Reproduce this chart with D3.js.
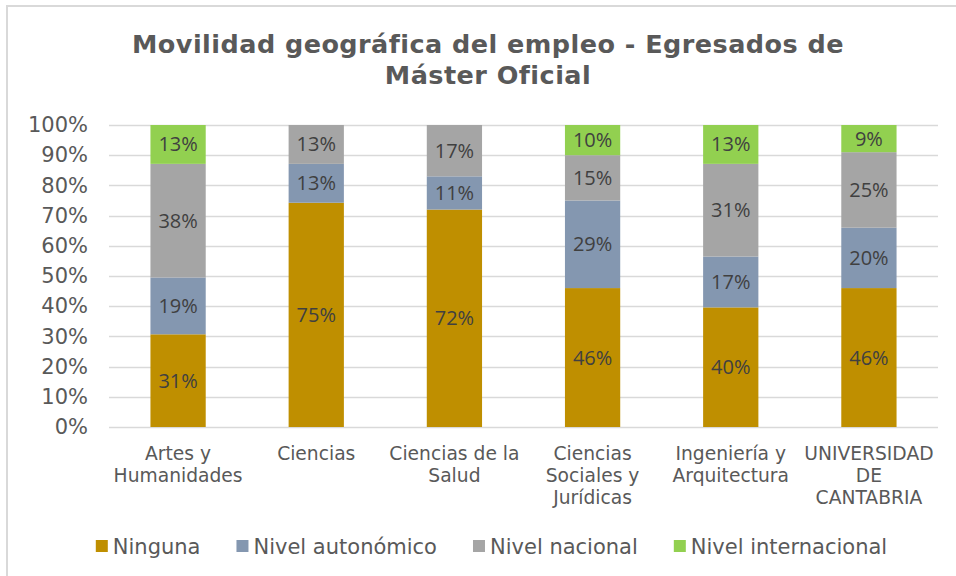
<!DOCTYPE html>
<html>
<head>
<meta charset="utf-8">
<script src="https://cdn.jsdelivr.net/npm/d3@7"></script>
<style>
  html, body { margin: 0; padding: 0; background: #ffffff; }
  svg { display: block; }
</style>
</head>
<body>
<svg id="chart" width="956" height="576"></svg>
<script>
// Movilidad geográfica del empleo — Máster Oficial, por rama de conocimiento
const categories = [
  "Artes y Humanidades",
  "Ciencias",
  "Ciencias de la Salud",
  "Ciencias Sociales y Jurídicas",
  "Ingeniería y Arquitectura",
  "UNIVERSIDAD DE CANTABRIA"
];
const seriesNames = ["Ninguna", "Nivel autonómico", "Nivel nacional", "Nivel internacional"];
const ninguna       = [31, 75, 72, 46, 40, 46];
const autonomico    = [19, 13, 11, 29, 17, 20];
const nacional      = [38, 13, 17, 15, 31, 25];
const internacional = [13,  0,  0, 10, 13,  9];
const yTicks = [0, 0.1, 0.2, 0.3, 0.4, 0.5, 0.6, 0.7, 0.8, 0.9, 1];
const titleLines = ["Movilidad geográfica del empleo - Egresados de", "Máster Oficial"];

const colors = ["#BF8F00", "#8497B0", "#A5A5A5", "#92D050"];
const seriesValues = [ninguna, autonomico, nacional, internacional];

const rows = categories.map((c, i) => {
  const r = { category: c };
  seriesNames.forEach((s, k) => { r[s] = seriesValues[k][i]; });
  return r;
});

const svg = d3.select("#chart");
const W = 956, H = 576;

// chart frame
svg.append("rect")
  .attr("x", 7).attr("y", 6)
  .attr("width", W + 10).attr("height", H + 10)
  .attr("fill", "#ffffff")
  .attr("stroke", "#D9D9D9").attr("stroke-width", 2);

const plot = { left: 109, right: 938, top: 125, bottom: 427 };

const x = d3.scaleBand()
  .domain(categories)
  .range([plot.left, plot.right])
  .paddingInner(0.6)
  .paddingOuter(0.3);

const y = d3.scaleLinear().domain([0, 1]).range([plot.bottom, plot.top]);

// title
const titleG = svg.append("g")
  .attr("font-family", "'DejaVu Sans', Verdana, sans-serif")
  .attr("font-weight", "bold")
  .attr("font-size", 25.5)
  .attr("fill", "#595959")
  .attr("text-anchor", "middle");
const titleTexts = titleG.selectAll("text").data(titleLines).join("text")
  .attr("x", 488)
  .attr("y", (d, i) => 53 + i * 31)
  .text(d => d);
// adjust tracking so the first line spans 711px
const natural = titleTexts.nodes()[0].getComputedTextLength();
const spacing = (711 - natural) / titleLines[0].length;
titleTexts.attr("letter-spacing", spacing);

// gridlines
const grid = svg.append("g");
grid.selectAll("line").data(yTicks).join("line")
  .attr("x1", plot.left).attr("x2", plot.right)
  .attr("y1", d => Math.round(y(d)) + 0.5)
  .attr("y2", d => Math.round(y(d)) + 0.5)
  .attr("stroke", "#D9D9D9").attr("stroke-width", 1.5);

// y axis labels
const yAxis = svg.append("g")
  .attr("transform", `translate(${plot.left},0)`)
  .call(d3.axisLeft(y).tickValues(yTicks).tickFormat(d3.format(".0%")).tickSize(0).tickPadding(21));
yAxis.select(".domain").remove();
yAxis.selectAll("text")
  .attr("font-family", "'DejaVu Sans', Verdana, sans-serif")
  .attr("font-size", 21)
  .attr("fill", "#595959");

// stacked bars (100% stacked)
const stack = d3.stack().keys(seriesNames).offset(d3.stackOffsetExpand);
const layers = stack(rows);

const layerG = svg.append("g").selectAll("g").data(layers).join("g")
  .attr("fill", (d, i) => colors[i]);

layerG.selectAll("rect").data(d => d.map(p => ({ p, key: d.key }))).join("rect")
  .attr("x", d => x(d.p.data.category))
  .attr("width", x.bandwidth())
  .attr("y", d => y(d.p[1]))
  .attr("height", d => Math.max(0, y(d.p[0]) - y(d.p[1])));

// value labels
const labelG = svg.append("g")
  .attr("font-family", "'Open Sans', sans-serif")
  .attr("font-size", 20)
  .attr("fill", "#404040")
  .attr("text-anchor", "middle");
layers.forEach(layer => {
  labelG.selectAll(null)
    .data(layer.filter(p => p.data[layer.key] > 0))
    .join("text")
    .attr("x", p => x(p.data.category) + x.bandwidth() / 2)
    .attr("y", p => (y(p[0]) + y(p[1])) / 2)
    .attr("dy", "0.35em")
    .text(p => p.data[layer.key] + "%");
});

// category labels, word-wrapped
const catG = svg.append("g")
  .attr("font-family", "'DejaVu Sans', Verdana, sans-serif")
  .attr("font-size", 18.7)
  .attr("fill", "#595959")
  .attr("text-anchor", "middle");
const maxW = 134;
categories.forEach(c => {
  const cxPos = x(c) + x.bandwidth() / 2;
  const t = catG.append("text").attr("x", cxPos).attr("y", 460);
  const words = c.split(" ");
  let line = [];
  let tspan = t.append("tspan").attr("x", cxPos).attr("dy", 0);
  words.forEach(w => {
    line.push(w);
    tspan.text(line.join(" "));
    if (tspan.node().getComputedTextLength() > maxW && line.length > 1) {
      line.pop();
      tspan.text(line.join(" "));
      line = [w];
      tspan = t.append("tspan").attr("x", cxPos).attr("dy", 22).text(w);
    }
  });
});

// legend
const legend = svg.append("g")
  .attr("font-family", "'DejaVu Sans', Verdana, sans-serif")
  .attr("font-size", 21)
  .attr("fill", "#595959");
const items = legend.selectAll("g").data(seriesNames).join("g");
items.append("rect")
  .attr("width", 12).attr("height", 12)
  .attr("y", 540)
  .attr("fill", (d, i) => colors[i]);
items.append("text")
  .attr("x", 17).attr("y", 554)
  .text(d => d);
const gap = 36;
const widths = items.nodes().map(n => 17 + d3.select(n).select("text").node().getComputedTextLength());
const total = d3.sum(widths) + gap * (widths.length - 1);
let cx = 491.5 - total / 2;
items.each(function (d, i) {
  d3.select(this).attr("transform", `translate(${cx},0)`);
  cx += widths[i] + gap;
});
</script>
</body>
</html>
